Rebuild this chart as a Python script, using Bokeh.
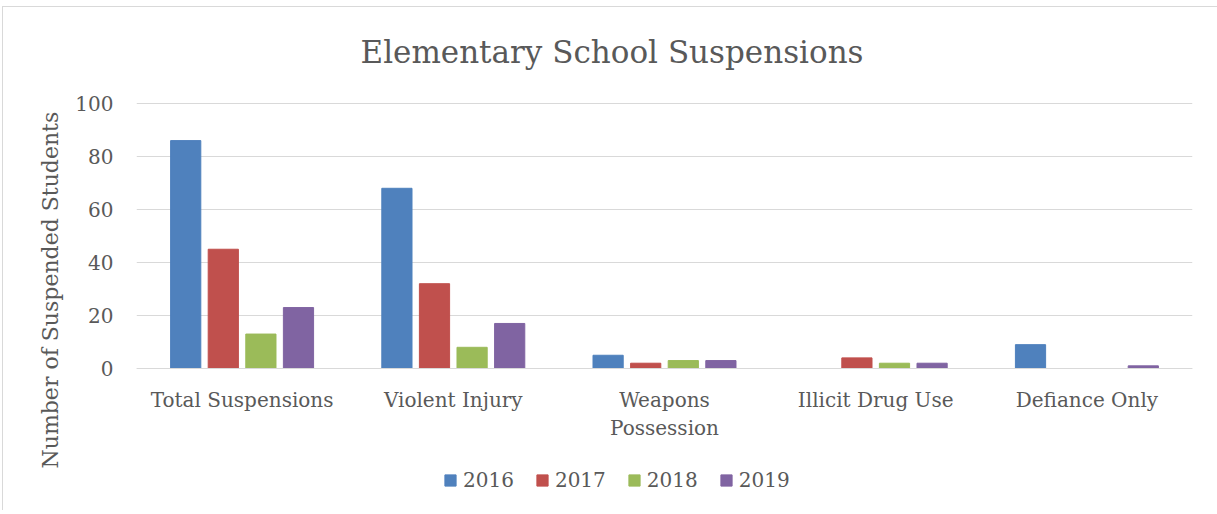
from bokeh.plotting import figure
from bokeh.models import ColumnDataSource, FactorRange, Range1d, Legend, LegendItem, FixedTicker, Title
from bokeh.transform import dodge
from bokeh.embed import file_html
from bokeh.resources import INLINE

categories = ["Total Suspensions", "Violent Injury", "Weapons\nPossession", "Illicit Drug Use", "Defiance Only"]
years = ["2016", "2017", "2018", "2019"]
v2016 = [86, 68, 5, 0, 9]
v2017 = [45, 32, 2, 4, 0]
v2018 = [13, 8, 3, 2, 0]
v2019 = [23, 17, 3, 2, 1]
colors = ["#4F81BD", "#C0504D", "#9BBB59", "#8064A2"]
y_ticks = [0, 20, 40, 60, 80, 100]
title_text = "Elementary School Suspensions"
y_label_text = "Number of Suspended Students"

FONT = "DejaVu Serif"
GREY = "#595959"

src = ColumnDataSource(dict(cat=categories, y2016=v2016, y2017=v2017, y2018=v2018, y2019=v2019))

# frame extends above 100 (room for title) and below 0 (room for labels and legend)
p = figure(x_range=FactorRange(*categories), y_range=Range1d(-53.58, 110.94),
           frame_width=1056, frame_height=436, output_backend="svg", toolbar_location=None,
           min_border_left=133, min_border_right=25, min_border_top=67, min_border_bottom=0)
p.styles = {"border-left": "1px solid #d9d9d9", "border-top": "1px solid #d9d9d9",
            "margin-left": "2px", "margin-top": "6px"}

p.title.text = title_text
p.title.align = "left"
p.title.offset = 224
p.title.text_font = FONT
p.title.text_font_size = "31px"
p.title.text_font_style = "normal"
p.title.text_color = GREY
p.title.standoff = 10

offsets = [-0.267, -0.089, 0.089, 0.267]
items = []
for yr, col, off in zip(years, colors, offsets):
    r = p.vbar(x=dodge("cat", off, range=p.x_range), top="y" + yr, bottom=0, width=0.143,
               source=src, fill_color=col, line_color=col)
    items.append(LegendItem(label=yr, renderers=[r]))

p.outline_line_color = None
p.xgrid.grid_line_color = None
p.ygrid.grid_line_color = "#d9d9d9"
p.ygrid.grid_line_width = 1

p.yaxis.ticker = FixedTicker(ticks=y_ticks)
p.yaxis.axis_line_color = None
p.yaxis.major_tick_line_color = None
p.yaxis.minor_tick_line_color = None
p.yaxis.major_label_text_font = FONT
p.yaxis.major_label_text_font_size = "20px"
p.yaxis.major_label_text_color = GREY
p.yaxis.major_label_standoff = 17

ylab = Title(text=y_label_text, align="left", offset=42, standoff=20,
             text_font=FONT, text_font_size="22px", text_font_style="normal", text_color=GREY)
p.add_layout(ylab, "left")

p.xaxis.fixed_location = 0
p.xaxis.axis_line_color = "#d9d9d9"
p.xaxis.axis_line_width = 1
p.xaxis.major_tick_line_color = None
p.xaxis.minor_tick_line_color = None
p.xaxis.major_label_text_font = FONT
p.xaxis.major_label_text_font_size = "20px"
p.xaxis.major_label_text_color = GREY
p.xaxis.major_label_standoff = 13

legend = Legend(items=items, orientation="horizontal", location=(307, 18),
                label_text_font=FONT, label_text_font_size="20px", label_text_color=GREY,
                glyph_width=14, glyph_height=14, spacing=21, label_standoff=6, padding=10,
                border_line_color=None, background_fill_alpha=0, margin=0)
p.add_layout(legend, "center")

open("out.html", "w").write(file_html(p, INLINE))
